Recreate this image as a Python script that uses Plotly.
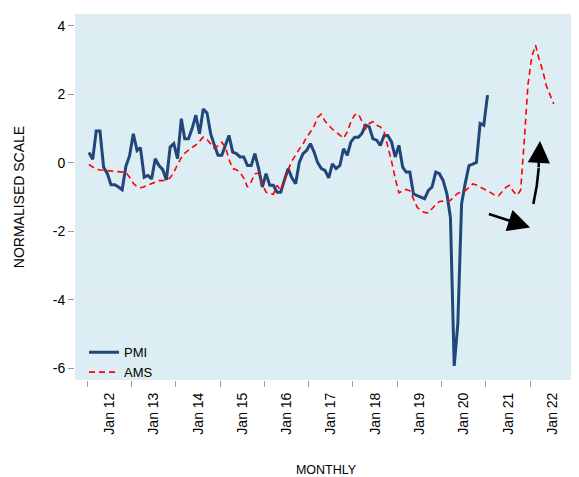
import pandas as pd
import plotly.graph_objects as go

# ---- data (monthly, starting Jan 2012) ----
start_month = "2012-01-01"
pmi = [0.3, 0.1, 0.93, 0.93, -0.13, -0.32, -0.64, -0.64, -0.71, -0.79,
       -0.1, 0.2, 0.85, 0.36, 0.44, -0.42, -0.37, -0.47, 0.12, -0.08,
       -0.2, -0.5, 0.46, 0.56, 0.12, 1.29, 0.7, 0.7, 1.0, 1.39,
       0.85, 1.57, 1.46, 0.85, 0.51, 0.22, 0.22, 0.51, 0.8, 0.31,
       0.27, 0.17, 0.17, -0.08, -0.08, 0.27, -0.17, -0.71, -0.32, -0.66,
       -0.66, -0.86, -0.86, -0.5, -0.17, -0.44, -0.61, 0.01, 0.27, 0.36,
       0.56, 0.31, 0.01, -0.17, -0.22, -0.44, -0.03, -0.17, -0.08, 0.41,
       0.22, 0.61, 0.75, 0.75, 0.85, 1.1, 1.05, 0.7, 0.66, 0.51,
       0.8, 0.8, 0.61, 0.17, 0.51, -0.13, -0.27, -0.27, -0.91, -0.96,
       -1.0, -1.05, -0.81, -0.71, -0.27, -0.32, -0.52, -0.91, -1.6, -5.94,
       -4.7, -1.2, -0.6, -0.08, -0.04, 0.01, 1.15, 1.1, 1.98]
ams = [-0.05, -0.12, -0.19, -0.21, -0.22, -0.23, -0.24, -0.25, -0.25, -0.26,
       -0.28, -0.42, -0.6, -0.7, -0.73, -0.7, -0.65, -0.6, -0.55, -0.52,
       -0.52, -0.5, -0.44, -0.28, -0.05, 0.15, 0.28, 0.38, 0.45, 0.52,
       0.65, 0.75, 0.68, 0.55, 0.42, 0.5, 0.6, 0.45, 0.1, -0.17,
       -0.2, -0.28, -0.45, -0.71, -0.55, -0.32, -0.3, -0.63, -0.86, -0.9,
       -0.92, -0.66, -0.81, -0.55, -0.2, 0.05, 0.25, 0.4, 0.55, 0.75,
       0.9, 1.08, 1.33, 1.42, 1.22, 1.08, 0.98, 0.9, 0.8, 0.72,
       0.9, 1.2, 1.4, 1.43, 1.22, 1.0, 1.15, 1.2, 1.1, 1.05,
       0.9, 0.5, 0.05, -0.45, -0.88, -0.82, -0.78, -0.82, -1.08, -1.3,
       -1.4, -1.45, -1.47, -1.33, -1.22, -1.13, -1.12, -1.12, -1.1, -0.98,
       -0.89, -0.86, -0.82, -0.72, -0.62, -0.65, -0.7, -0.77, -0.82, -0.88,
       -0.95, -0.97, -0.85, -0.72, -0.66, -0.83, -0.95, -0.8, 0.7, 2.3,
       3.1, 3.44, 3.05, 2.7, 2.25, 1.95, 1.72]
y_ticks = [4, 2, 0, -2, -4, -6]
y_tick_labels = ["4", "2", "0", "-2", "-4", "-6"]

months_pmi = pd.date_range(start_month, periods=len(pmi), freq="MS") + pd.Timedelta(days=14)
months_ams = pd.date_range(start_month, periods=len(ams), freq="MS") + pd.Timedelta(days=14)

FONT = "Arial, Liberation Sans, sans-serif"

fig = go.Figure()
fig.add_trace(go.Scatter(x=months_pmi, y=pmi, mode="lines", name="PMI",
                         line=dict(color="#21477A", width=3)))
fig.add_trace(go.Scatter(x=months_ams, y=ams, mode="lines", name="AMS",
                         line=dict(color="#FF0000", width=1.6, dash="6px,4px")))

# arrows (annotation decoration)
fig.add_annotation(x="2022-01-01", y=-1.89, ax="2021-01-14", ay=-1.48,
                   xref="x", yref="y", axref="x", ayref="y",
                   showarrow=True, arrowhead=2, arrowsize=1.7, arrowwidth=2.6,
                   arrowcolor="black", text="")
fig.add_shape(type="path", xref="paper", yref="paper",
              path="M 0.913 0.481 Q 0.9213 0.530 0.9237 0.579",
              line=dict(color="black", width=2.6))
fig.add_annotation(x="2022-03-24", y=0.64, ax=-1.5, ay=28,
                   xref="x", yref="y",
                   showarrow=True, arrowhead=2, arrowsize=1.7, arrowwidth=2.6,
                   arrowcolor="black", text="")

fig.update_layout(
    width=571, height=469,
    margin=dict(l=67, r=2, t=6, b=97),
    paper_bgcolor="white",
    plot_bgcolor="#DCEDF3",
    font=dict(family=FONT, size=14, color="black"),
    showlegend=True,
    legend=dict(x=0.018, y=-0.02, xanchor="left", yanchor="bottom",
                bgcolor="rgba(0,0,0,0)", font=dict(size=13),
                tracegroupgap=0, itemwidth=30),
    xaxis=dict(
        type="date", automargin=False,
        range=["2011-09-22", "2023-01-23"],
        tick0="2012-01-01", dtick="M12", tickformat="Jan %y",
        ticklabelmode="period", tickangle=-90,
        ticks="outside", ticklen=6, tickcolor="#999999",
        showgrid=False, zeroline=False, showline=False,
        tickfont=dict(size=14),
        title=dict(text="MONTHLY", font=dict(size=12.5), standoff=34),
    ),
    yaxis=dict(
        automargin=False,
        range=[-6.35, 4.35],
        tickvals=y_ticks, ticktext=y_tick_labels,
        ticks="outside", ticklen=6, tickcolor="#999999",
        showgrid=True, gridcolor="#E6ECEE", gridwidth=1,
        zeroline=False, showline=False,
        tickfont=dict(size=14),
        title=dict(text="NORMALISED SCALE", font=dict(size=14), standoff=24),
    ),
)

fig.write_html("out.html")
